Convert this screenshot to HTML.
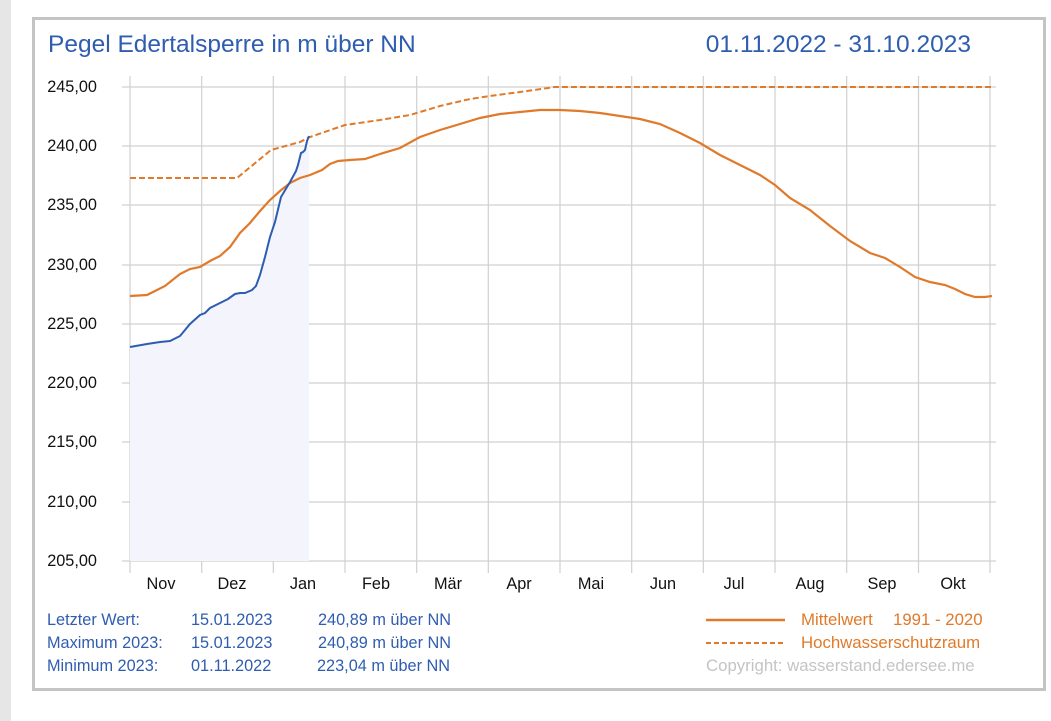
<!DOCTYPE html>
<html><head><meta charset="utf-8"><style>
html,body{margin:0;padding:0;background:#fff;}
body{width:1051px;height:721px;position:relative;overflow:hidden;font-family:"Liberation Sans",Arial,sans-serif;}
</style></head><body>
<svg width="1051" height="721" xmlns="http://www.w3.org/2000/svg" style="position:absolute;left:0;top:0">
<rect x="0" y="0" width="11" height="721" fill="#e6e6e6"/>
<rect x="33.5" y="18.5" width="1011" height="671" fill="#fff" stroke="#c4c4c4" stroke-width="3"/>
<text x="48" y="52" font-size="24.5" fill="#2f5db0">Pegel Edertalsperre in m über NN</text>
<text x="971" y="52" font-size="24.5" fill="#2f5db0" text-anchor="end">01.11.2022 - 31.10.2023</text>
<g stroke="#d0d0d0" stroke-width="1.2">
<line x1="122" y1="87" x2="996" y2="87"/><line x1="122" y1="146" x2="996" y2="146"/>
<line x1="122" y1="205" x2="996" y2="205"/><line x1="122" y1="265" x2="996" y2="265"/>
<line x1="122" y1="324" x2="996" y2="324"/><line x1="122" y1="383" x2="996" y2="383"/>
<line x1="122" y1="442" x2="996" y2="442"/><line x1="122" y1="502" x2="996" y2="502"/>
<line x1="122" y1="561" x2="996" y2="561"/>
<line x1="130" y1="76" x2="130" y2="573"/><line x1="201.7" y1="76" x2="201.7" y2="573"/>
<line x1="273.3" y1="76" x2="273.3" y2="573"/><line x1="345" y1="76" x2="345" y2="573"/>
<line x1="416.7" y1="76" x2="416.7" y2="573"/><line x1="488.3" y1="76" x2="488.3" y2="573"/>
<line x1="560" y1="76" x2="560" y2="573"/><line x1="631.7" y1="76" x2="631.7" y2="573"/>
<line x1="703.3" y1="76" x2="703.3" y2="573"/><line x1="775" y1="76" x2="775" y2="573"/>
<line x1="846.7" y1="76" x2="846.7" y2="573"/><line x1="918.5" y1="76" x2="918.5" y2="573"/>
<line x1="990" y1="76" x2="990" y2="573"/>
</g>
<g font-size="16.3" fill="#111" text-anchor="end">
<text x="97" y="92">245,00</text><text x="97" y="151">240,00</text><text x="97" y="210">235,00</text>
<text x="97" y="270">230,00</text><text x="97" y="329">225,00</text><text x="97" y="388">220,00</text>
<text x="97" y="447">215,00</text><text x="97" y="507">210,00</text><text x="97" y="566">205,00</text>
</g>
<g font-size="16.3" fill="#111" text-anchor="middle">
<text x="161" y="589">Nov</text><text x="232" y="589">Dez</text><text x="303" y="589">Jan</text>
<text x="376" y="589">Feb</text><text x="448" y="589">Mär</text><text x="519" y="589">Apr</text>
<text x="591" y="589">Mai</text><text x="663" y="589">Jun</text><text x="734" y="589">Jul</text>
<text x="810" y="589">Aug</text><text x="882" y="589">Sep</text><text x="953" y="589">Okt</text>
</g>
<polygon fill="#f3f4fc" points="130,561 130,347 147,344 160,342 170,341 180,336 190,324 200,315 205,313 210,308 220,303 228,299 235,294 240,293 245,293 252,290 256,286 260,275 265,257 270,237 275,222 281,197 290,182 296,171 298,165 301,153 303,152 305,150 307,141 309,136 309,561"/>
<polyline fill="none" stroke="#e07a2a" stroke-width="2.2" points="130,296 147,295 155,291 165,286 180,274 190,269 200,267 210,261 220,256 230,247 240,233 250,223 260,211 270,200 280,191 290,183 300,178 310,175 322,170 330,164 338,161 350,160 365,159 380,154 400,148 420,137 440,130 460,124 480,118 500,114 520,112 540,110 560,110 580,111 600,113 620,116 640,119 660,124 680,133 700,143 720,155 740,165 760,175 775,185 790,198 810,210 830,226 850,241 870,253 885,258 900,267 915,277 930,282 945,285 955,289 965,294 975,297 985,297 992,296"/>
<polyline fill="none" stroke="#e07a2a" stroke-width="2" stroke-dasharray="6,3" points="130,178 237,178 271,150 300,142 310,137 345,125 380,120 410,115 440,106 470,99 490,96 520,92 555,87 992,87"/>
<polyline fill="none" stroke="#2d5cb0" stroke-width="2" points="130,347 147,344 160,342 170,341 180,336 190,324 200,315 205,313 210,308 220,303 228,299 235,294 240,293 245,293 252,290 256,286 260,275 265,257 270,237 275,222 281,197 290,182 296,171 298,165 301,153 303,152 305,150 307,141 309,136"/>
<g font-size="16.3" fill="#2f5db0">
<text x="47" y="625">Letzter Wert:</text><text x="191" y="625">15.01.2023</text><text x="318" y="625">240,89 m über NN</text>
<text x="47" y="648">Maximum 2023:</text><text x="191" y="648">15.01.2023</text><text x="318" y="648">240,89 m über NN</text>
<text x="47" y="671">Minimum 2023:</text><text x="191" y="671">01.11.2022</text><text x="317" y="671">223,04 m über NN</text>
</g>
<line x1="706" y1="620" x2="785" y2="620" stroke="#e07a2a" stroke-width="2.5"/>
<line x1="706" y1="643" x2="785" y2="643" stroke="#e07a2a" stroke-width="2" stroke-dasharray="5,3"/>
<g font-size="16.8" fill="#e07a2a">
<text x="801" y="625">Mittelwert</text><text x="893" y="625">1991 - 2020</text>
<text x="801" y="648">Hochwasserschutzraum</text>
</g>
<text x="706" y="671" font-size="16.8" fill="#c4c4c4">Copyright: wasserstand.edersee.me</text>
</svg>
</body></html>
